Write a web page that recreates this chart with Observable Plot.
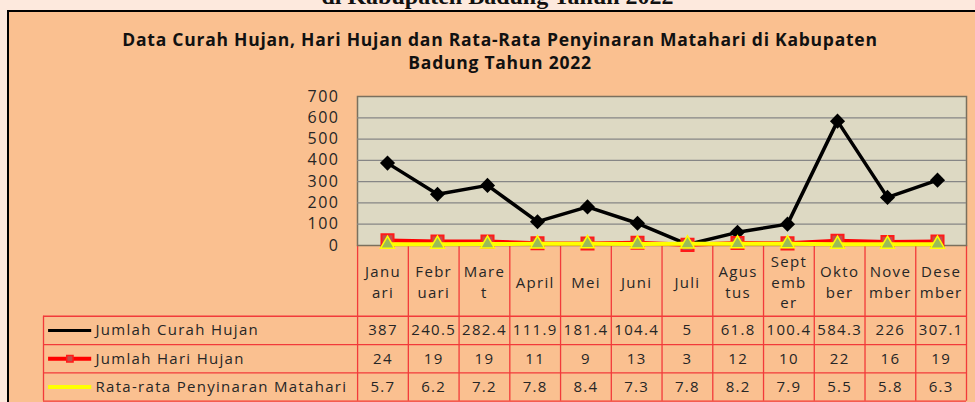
<!DOCTYPE html>
<html><head><meta charset="utf-8">
<script src="https://cdn.jsdelivr.net/npm/d3@7"></script>
<script src="https://cdn.jsdelivr.net/npm/@observablehq/plot@0.6"></script>
<style>
html,body{margin:0;padding:0;}
body{background:#FDE9DD;width:975px;height:402px;overflow:hidden;position:relative;}
#top{position:absolute;left:0;width:995px;top:-16px;text-align:center;font:bold 24px "Liberation Serif",serif;line-height:24px;color:#111;}
#panel{position:absolute;left:7px;top:10px;width:980px;height:400px;background:#FAC090;border-left:2px solid #000;border-top:2px solid #000;}
#title{position:absolute;left:0;width:1000px;top:28px;text-align:center;font:700 17.5px "Open Sans",sans-serif;letter-spacing:0.75px;line-height:23px;color:#111;}
#chart,#table{position:absolute;left:0;}
#chart{top:0px}
#table{top:245px}
svg{overflow:visible}
</style></head><body>
<div id="top">di Kabupaten Badung Tahun 2022</div>
<div id="panel"></div>
<div id="title">Data Curah Hujan, Hari Hujan dan Rata-Rata Penyinaran Matahari di Kabupaten<br>Badung Tahun 2022</div>
<div id="table"></div>
<div id="chart"></div>
<script>
const months = ["Januari","Februari","Maret","April","Mei","Juni","Juli","Agustus","September","Oktober","November","Desember"];
const monthLabels = ["Janu\nari","Febr\nuari","Mare\nt","April","Mei","Juni","Juli","Agus\ntus","Sept\nemb\ner","Okto\nber","Nove\nmber","Dese\nmber"];
const curahHujan = [387,240.5,282.4,111.9,181.4,104.4,5,61.8,100.4,584.3,226,307.1];
const hariHujan = [24,19,19,11,9,13,3,12,10,22,16,19];
const penyinaran = [5.7,6.2,7.2,7.8,8.4,7.3,7.8,8.2,7.9,5.5,5.8,6.3];
const seriesNames = ["Jumlah Curah Hujan","Jumlah Hari Hujan","Rata-rata Penyinaran Matahari"];
const yTicks = [0,100,200,300,400,500,600,700];

const rows = months.map((m,i)=>({month:m, curah:curahHujan[i], hari:hariHujan[i], sinar:penyinaran[i]}));
const textCol = "#262626";
const redLine = "#F23A3A";

const chart = Plot.plot({
  width:975, height:260, marginLeft:357, marginRight:9, marginTop:96, marginBottom:15,
  style:"background:transparent;overflow:visible;font-family:'Open Sans',sans-serif;font-size:16px;letter-spacing:1.5px;color:#262626;",
  x:{type:"band", domain:months, padding:0, axis:null},
  y:{domain:[0,700], ticks:yTicks, tickSize:0, tickPadding:18, label:null, tickFormat:d=>String(d)},
  marks:[
    Plot.frame({fill:"#DDD9C3", stroke:"#7a705e", strokeWidth:1.5}),
    Plot.ruleY(yTicks.filter(t=>t>0&&t<700), {stroke:"#868686", strokeWidth:1.2}),
    Plot.line(rows, {x:"month", y:"curah", stroke:"#000", strokeWidth:3.5}),
    Plot.dot(rows, {x:"month", y:"curah", symbol:"diamond2", r:6.8, fill:"#000", stroke:null}),
    Plot.line(rows, {x:"month", y:"hari", stroke:"#FF0000", strokeWidth:4}),
    Plot.dot(rows, {x:"month", y:"hari", symbol:"square", r:6.8, fill:"#C0504D", stroke:"#FF1A1A", strokeWidth:2}),
    Plot.line(rows, {x:"month", y:"sinar", stroke:"#FFFF00", strokeWidth:4}),
    Plot.dot(rows, {x:"month", y:"sinar", symbol:"triangle", r:5.2, fill:"#9BBB59", stroke:"#FFFF00", strokeWidth:1.5})
  ]
});
document.getElementById("chart").append(chart);

const legendSpan = 6.19;
const seriesValues = [curahHujan, hariHujan, penyinaran];
const legendStroke = ["#000","#FF0000","#FFFF00"];
const legendStrokeW = [3,4,4];
const legendSymbol = ["diamond2","square","triangle"];
const legendFill = ["#000","#C0504D","#9BBB59"];
const legendR = [4,5.2,3.4];
const idx = [0,1,2];
const valueCells = [];
seriesValues.forEach((vals,k)=>vals.forEach((v,i)=>valueCells.push({i, k, v})));

const table = Plot.plot({
  width:975, height:157, marginLeft:43, marginRight:9, marginTop:0, marginBottom:1,
  style:"background:transparent;overflow:visible;font-family:'Open Sans',sans-serif;font-size:15px;letter-spacing:1.3px;",
  x:{domain:[-legendSpan,12], axis:null},
  y:{domain:[0,5.5], range:[0,155.7], axis:null},
  marks:[
    Plot.ruleX(d3.range(0,13), {y1:0, y2:5.5, stroke:redLine, strokeWidth:1.3}),
    Plot.ruleX([-legendSpan], {y1:2.5, y2:5.5, stroke:redLine, strokeWidth:1.3}),
    Plot.ruleY([2.5,3.5,4.5,5.5], {x1:-legendSpan, x2:12, stroke:redLine, strokeWidth:1.3}),
    Plot.text(monthLabels, {x:(d,i)=>i+0.5, y:1.25, text:d=>d, lineHeight:1.38, fill:textCol}),
    Plot.text(valueCells, {x:d=>d.i+0.5, y:d=>3+d.k, text:d=>String(d.v), fill:textCol}),
    Plot.ruleY(idx, {y:k=>3+k, x1:-legendSpan+0.1, x2:-legendSpan+0.95, stroke:k=>legendStroke[k], strokeWidth:k=>legendStrokeW[k]}),
    Plot.dot(idx, {x:-legendSpan+0.52, y:k=>3+k, symbol:k=>legendSymbol[k], r:k=>legendR[k], fill:k=>legendFill[k], stroke:k=>k===1?"#FF1A1A":null}),
    Plot.text(seriesNames, {x:-legendSpan, y:(d,k)=>3+k, dx:52, textAnchor:"start", fill:textCol})
  ]
});
document.getElementById("table").append(table);
</script>
</body></html>
